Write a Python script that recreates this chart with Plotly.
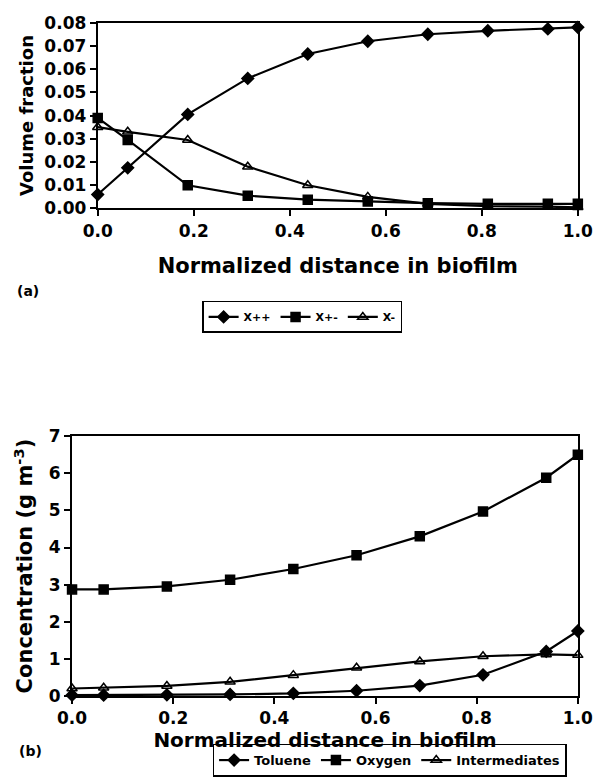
import plotly.graph_objects as go

# Data
distance = [0.0, 0.0625, 0.1875, 0.3125, 0.4375, 0.5625, 0.6875, 0.8125, 0.9375, 1.0]

x_pp = [0.006, 0.0175, 0.0405, 0.056, 0.0665, 0.072, 0.075, 0.0765, 0.0773, 0.078]
x_pm = [0.039, 0.0295, 0.010, 0.0055, 0.0038, 0.003, 0.0023, 0.002, 0.002, 0.002]
x_m = [0.035, 0.033, 0.0295, 0.018, 0.010, 0.005, 0.002, 0.001, 0.0008, 0.0005]

toluene = [0.02, 0.02, 0.03, 0.04, 0.07, 0.14, 0.28, 0.57, 1.2, 1.75]
oxygen = [2.87, 2.87, 2.95, 3.13, 3.42, 3.79, 4.3, 4.97, 5.88, 6.5]
intermediates = [0.2, 0.22, 0.27, 0.38, 0.56, 0.76, 0.93, 1.07, 1.12, 1.1]

top_names = ["X++", "X+-", "X-"]
bottom_names = ["Toluene", "Oxygen", "Intermediates"]

FONT = "DejaVu Sans"
W, H = 609, 777

fig = go.Figure()

def add(y, name, symbol, xa, ya, legend):
    fig.add_trace(go.Scatter(
        x=distance, y=y, name=name, mode="lines+markers",
        line=dict(color="black", width=2.2),
        marker=dict(symbol=symbol, size=9, color="black",
                    line=dict(color="black", width=1.5)),
        xaxis=xa, yaxis=ya, legend=legend, showlegend=True,
        cliponaxis=False,
    ))

add(x_pp, top_names[0], "diamond", "x", "y", "legend")
add(x_pm, top_names[1], "square", "x", "y", "legend")
add(x_m, top_names[2], "triangle-up-open", "x", "y", "legend")
add(toluene, bottom_names[0], "diamond", "x2", "y2", "legend2")
add(oxygen, bottom_names[1], "square", "x2", "y2", "legend2")
add(intermediates, bottom_names[2], "triangle-up-open", "x2", "y2", "legend2")

def px(v):
    return v / W

def py(v):
    return 1 - v / H

tickfont = dict(family=FONT, size=17, color="black", weight="bold")

axis_common = dict(showline=True, linecolor="black", linewidth=2, mirror=True,
                   ticks="outside", ticklen=6, tickwidth=1.5, tickcolor="black",
                   showgrid=False, zeroline=False, tickfont=tickfont)

# inner half of the crossing tick marks
inner = dict(ticks="inside", ticklen=4, tickwidth=1.5, tickcolor="black",
             showticklabels=False, showline=False, showgrid=False, zeroline=False)

TOP_X = [px(87), px(592)]
TOP_Y = [py(204), py(13)]
BOT_X = [px(60), px(592)]
BOT_Y = [py(705), py(438)]

fig.update_layout(
    width=W, height=H,
    margin=dict(l=0, r=0, t=0, b=0),
    paper_bgcolor="white", plot_bgcolor="white",
    font=dict(family=FONT, color="black"),
    xaxis=dict(domain=TOP_X, anchor="y", range=[0, 1], dtick=0.2,
               tickformat=".1f",
               title=dict(text="Normalized distance in biofilm",
                          font=dict(family=FONT, size=21, color="black", weight="bold"),
                          standoff=18),
               **axis_common),
    yaxis=dict(domain=TOP_Y, anchor="x", range=[0, 0.08], dtick=0.01,
               tickformat=".2f",
               title=dict(text="Volume fraction",
                          font=dict(family=FONT, size=18, color="black", weight="bold"),
                          standoff=6),
               **axis_common),
    xaxis2=dict(domain=BOT_X, anchor="y2", range=[0, 1], dtick=0.2,
                tickformat=".1f",
                title=dict(text="Normalized distance in biofilm",
                           font=dict(family=FONT, size=20, color="black", weight="bold"),
                           standoff=0),
                **axis_common),
    yaxis2=dict(domain=BOT_Y, anchor="x2", range=[0, 7], dtick=1,
                title=dict(text="Concentration (g m<sup>-3</sup>)",
                           font=dict(family=FONT, size=21, color="black", weight="bold"),
                           standoff=10),
                **axis_common),
    xaxis3=dict(overlaying="x", anchor="y", range=[0, 1], dtick=0.2, side="bottom", **inner),
    yaxis3=dict(overlaying="y", anchor="x", range=[0, 0.08], dtick=0.01, side="left", **inner),
    xaxis4=dict(overlaying="x2", anchor="y2", range=[0, 1], dtick=0.2, side="bottom", **inner),
    yaxis4=dict(overlaying="y2", anchor="x2", range=[0, 7], dtick=1, side="left", **inner),
    legend=dict(orientation="h", x=px(302), y=py(299), xanchor="center", yanchor="top",
                bordercolor="black", borderwidth=1.5, bgcolor="white",
                font=dict(family=FONT, size=11, color="black", weight="bold"),
                itemwidth=30, tracegroupgap=0),
    legend2=dict(orientation="h", x=px(394), y=py(754), xanchor="center", yanchor="top",
                 bordercolor="black", borderwidth=1.5, bgcolor="white",
                 font=dict(family=FONT, size=13, color="black", weight="bold"),
                 itemwidth=30, tracegroupgap=0),
    annotations=[
        dict(text="(a)", x=px(0), y=py(289), xref="paper", yref="paper",
             xanchor="left", yanchor="middle", showarrow=False,
             font=dict(family=FONT, size=14, color="black", weight="bold")),
        dict(text="(b)", x=px(2), y=py(762), xref="paper", yref="paper",
             xanchor="left", yanchor="middle", showarrow=False,
             font=dict(family=FONT, size=14, color="black", weight="bold")),
    ],
)

post = (
    "document.documentElement.style.margin='0';"
    "document.documentElement.style.overflow='hidden';"
    "document.body.style.margin='0';"
    "document.body.style.overflow='hidden';"
    "var gd=document.getElementById('{plot_id}');"
    "gd.style.position='fixed';gd.style.left='0px';gd.style.top='0px';"
)

fig.write_html("out.html", config={"displayModeBar": False}, post_script=post)
